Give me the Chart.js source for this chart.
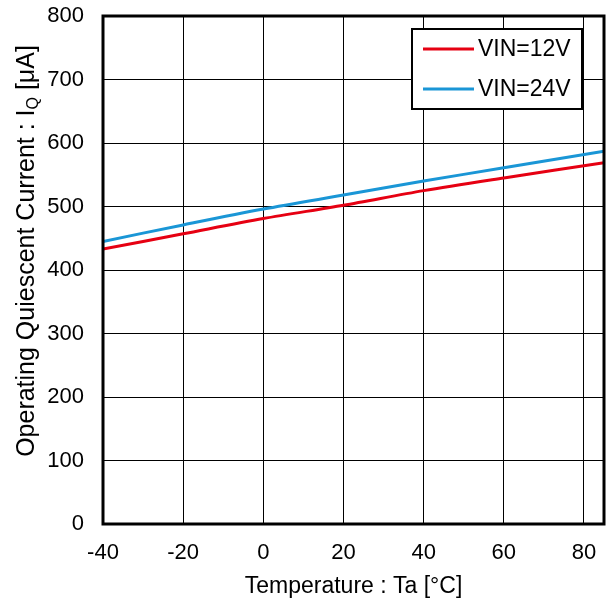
<!DOCTYPE html>
<html>
<head>
<meta charset="utf-8">
<script src="https://cdn.jsdelivr.net/npm/chart.js@4"></script>
<style>
  body { margin: 0; background: #fff; }
  #chart { display: block; }
</style>
</head>
<body>
<canvas id="chart" width="611" height="603"></canvas>
<script>
const temps = [-40, -20, 0, 20, 40, 60, 85];
const vin12 = [433, 457, 481, 502, 525, 545, 569];
const vin24 = [445, 471, 496, 518, 540, 561, 587];
const seriesLabels = ["VIN=12V", "VIN=24V"];
const seriesColors = ["#e60012", "#1a96d6"];
const xTicks = [-40, -20, 0, 20, 40, 60, 80];
const yTicks = [0, 100, 200, 300, 400, 500, 600, 700, 800];

const FONT = "'Liberation Sans', Arial, sans-serif";

// frame around the plot area
const framePlugin = {
  id: "frame",
  afterDraw(chart) {
    const { ctx, chartArea: a } = chart;
    ctx.save();
    ctx.strokeStyle = "#000";
    ctx.lineWidth = 3;
    ctx.strokeRect(a.left, a.top, a.right - a.left, a.bottom - a.top);
    ctx.restore();
  }
};

// boxed legend inside the plot, top right
const legendPlugin = {
  id: "boxLegend",
  afterDraw(chart) {
    const { ctx, chartArea: a } = chart;
    const w = 170, h = 80;
    const x = a.right - 22 - w, y = a.top + 13;
    ctx.save();
    ctx.fillStyle = "#fff";
    ctx.fillRect(x, y, w, h);
    ctx.strokeStyle = "#000";
    ctx.lineWidth = 2;
    ctx.strokeRect(x, y, w, h);
    ctx.font = "23px " + FONT;
    ctx.textBaseline = "middle";
    chart.data.datasets.forEach((ds, i) => {
      const ly = y + 20 + i * 40;
      ctx.strokeStyle = ds.borderColor;
      ctx.lineWidth = 3;
      ctx.beginPath();
      ctx.moveTo(x + 11, ly);
      ctx.lineTo(x + 62, ly);
      ctx.stroke();
      ctx.fillStyle = "#000";
      ctx.fillText(ds.label, x + 66, ly + 1);
    });
    ctx.restore();
  }
};

// y title with subscript Q
const yTitlePlugin = {
  id: "yTitle",
  afterDraw(chart) {
    const { ctx } = chart;
    const main = "Operating Quiescent Current : I";
    const sub = "Q";
    const tail = " [\u03BCA]";
    ctx.save();
    ctx.fillStyle = "#000";
    ctx.textBaseline = "alphabetic";
    ctx.font = "25px " + FONT;
    const w1 = ctx.measureText(main).width;
    const w3 = ctx.measureText(tail).width;
    ctx.font = "16px " + FONT;
    const w2 = ctx.measureText(sub).width;
    const total = w1 + w2 + w3;
    ctx.translate(34, 251);
    ctx.rotate(-Math.PI / 2);
    let cx = -total / 2;
    ctx.font = "25px " + FONT;
    ctx.fillText(main, cx, 0);
    cx += w1;
    ctx.font = "16px " + FONT;
    ctx.fillText(sub, cx, 4);
    cx += w2;
    ctx.font = "25px " + FONT;
    ctx.fillText(tail, cx, 0);
    ctx.restore();
  }
};

new Chart(document.getElementById("chart"), {
  type: "line",
  data: {
    labels: temps,
    datasets: [
      { label: seriesLabels[0], data: temps.map((t, i) => ({ x: t, y: vin12[i] })) },
      { label: seriesLabels[1], data: temps.map((t, i) => ({ x: t, y: vin24[i] })) }
    ].map((ds, i) => ({
      ...ds,
      borderColor: seriesColors[i],
      backgroundColor: seriesColors[i],
      borderWidth: 3,
      pointRadius: 0,
      tension: 0.3,
      fill: false
    }))
  },
  options: {
    responsive: false,
    animation: false,
    layout: { padding: { top: 16, right: 7, left: 0, bottom: 0 } },
    plugins: {
      legend: { display: false },
      tooltip: { enabled: false }
    },
    scales: {
      x: {
        type: "linear",
        min: -40,
        max: 85,
        afterBuildTicks: s => { s.ticks = xTicks.map(v => ({ value: v })); },
        afterFit: s => { s.height = 79; s.paddingLeft = 0; s.paddingRight = 0; },
        grid: { color: "#000", lineWidth: 1, drawTicks: false },
        border: { display: false },
        ticks: { color: "#000", font: { family: FONT, size: 22 }, padding: 16, maxRotation: 0 },
        title: {
          display: true,
          text: "Temperature : Ta [°C]",
          color: "#000",
          font: { family: FONT, size: 23 },
          padding: { top: 0, bottom: 3 }
        }
      },
      y: {
        min: 0,
        max: 800,
        afterBuildTicks: s => { s.ticks = yTicks.map(v => ({ value: v })); },
        afterFit: s => { s.width = 103; s.paddingTop = 0; s.paddingBottom = 0; },
        grid: { color: "#000", lineWidth: 1, drawTicks: false },
        border: { display: false },
        ticks: { color: "#000", font: { family: FONT, size: 22 }, padding: 19 }
      }
    }
  },
  plugins: [framePlugin, legendPlugin, yTitlePlugin]
});
</script>
</body>
</html>
